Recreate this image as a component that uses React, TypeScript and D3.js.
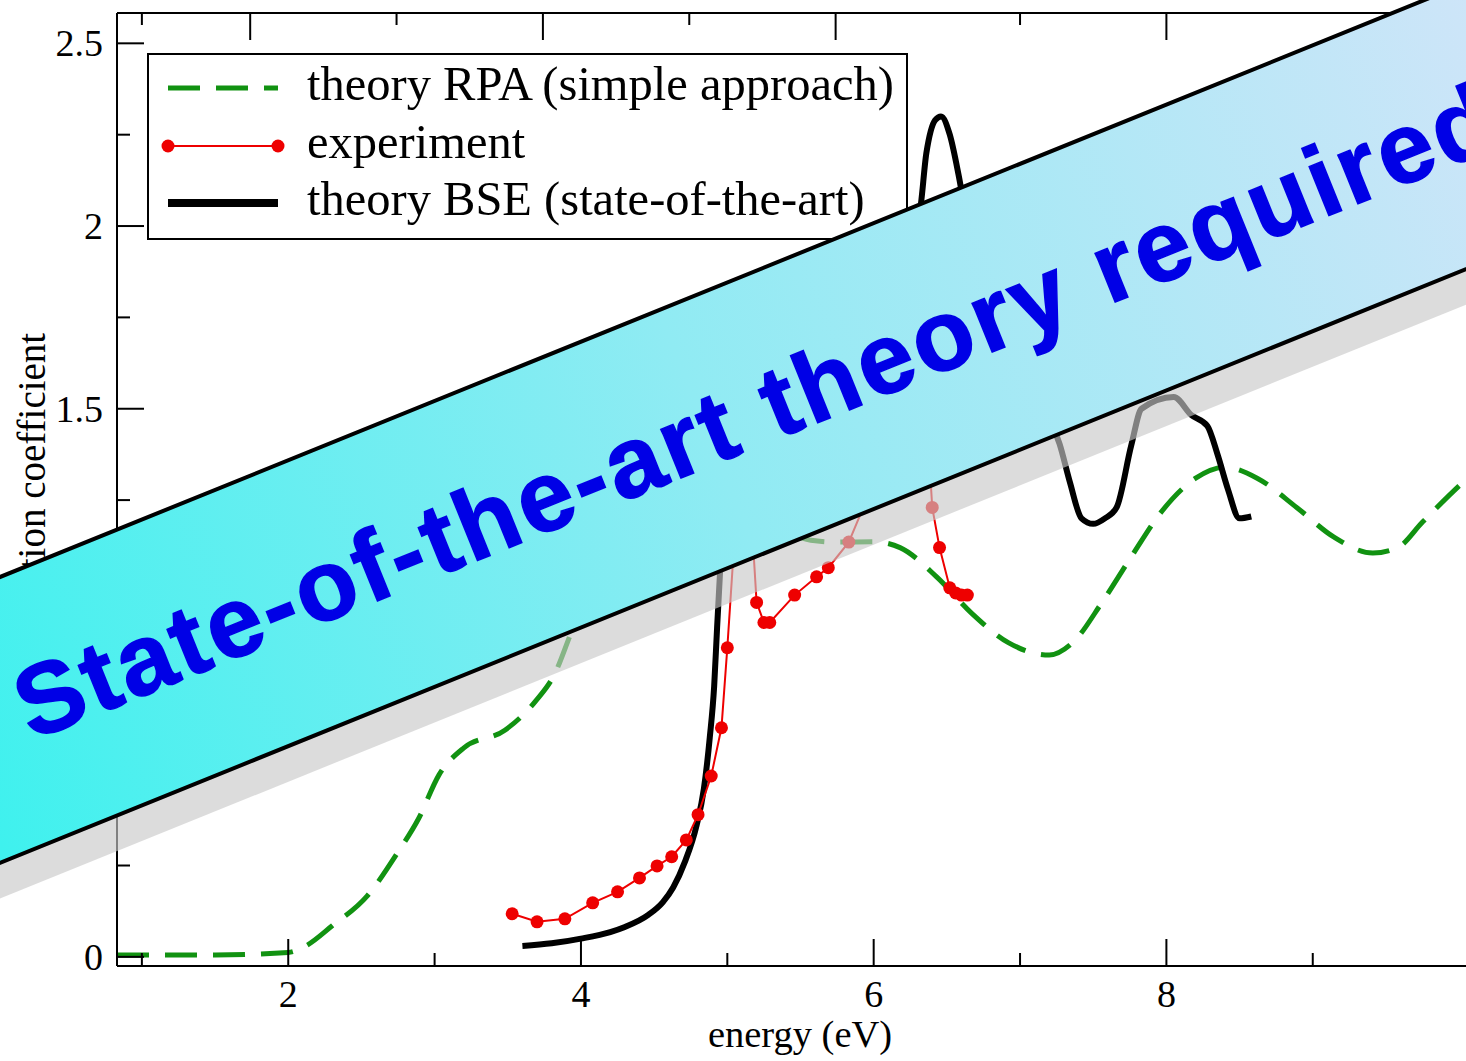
import { curveMonotoneX, line as d3_line, scaleLinear } from "d3";

// --- data ---
const rpaTheory: [number, number][] = [
  [0.83, 0.005], [1.5, 0.005], [2.0, 0.012], [2.12, 0.03], [2.3, 0.085],
  [2.54, 0.167], [2.75, 0.287], [2.89, 0.378], [3.03, 0.498], [3.2, 0.572],
  [3.48, 0.62], [3.69, 0.7], [3.82, 0.774], [3.93, 0.884], [4.05, 1.0],
  [4.2, 1.2], [4.4, 1.45], [4.6, 1.6], [4.8, 1.55], [5.0, 1.4], [5.2, 1.25],
  [5.4, 1.17], [5.57, 1.14], [5.75, 1.135], [6.0, 1.136], [6.18, 1.12],
  [6.43, 1.04], [6.67, 0.94], [6.92, 0.86], [7.2, 0.826], [7.36, 0.86],
  [7.56, 0.97], [7.76, 1.095], [7.96, 1.215], [8.2, 1.31], [8.4, 1.34],
  [8.62, 1.31], [8.89, 1.23], [9.14, 1.15], [9.41, 1.105], [9.58, 1.12],
  [9.75, 1.19], [10.03, 1.3], [10.17, 1.35],
];

const experiment: [number, number][] = [
  [3.53, 0.118], [3.7, 0.096], [3.89, 0.104], [4.08, 0.148], [4.25, 0.178],
  [4.4, 0.216], [4.52, 0.249], [4.62, 0.274], [4.72, 0.32], [4.8, 0.389],
  [4.89, 0.495], [4.96, 0.627], [5.0, 0.846], [5.05, 1.15], [5.1, 1.4],
  [5.15, 1.3], [5.2, 0.97], [5.25, 0.915], [5.29, 0.915], [5.46, 0.99],
  [5.61, 1.04], [5.69, 1.065], [5.83, 1.135], [5.95, 1.25], [6.1, 1.5],
  [6.25, 1.6], [6.36, 1.5], [6.4, 1.23], [6.45, 1.12], [6.52, 1.01],
  [6.56, 0.996], [6.6, 0.99], [6.64, 0.99],
];

const bseTheory: [number, number][] = [
  [3.6, 0.03], [3.8, 0.037], [4.0, 0.05], [4.2, 0.068], [4.3, 0.082],
  [4.46, 0.115], [4.56, 0.15], [4.63, 0.19], [4.71, 0.26], [4.79, 0.36],
  [4.84, 0.46], [4.88, 0.6], [4.91, 0.74], [4.93, 0.9], [4.95, 1.05],
  [5.05, 1.6], [5.15, 1.8], [5.3, 1.75], [5.5, 1.7], [5.8, 1.8], [6.1, 1.92],
  [6.31, 2.03], [6.36, 2.2], [6.42, 2.29], [6.46, 2.3], [6.52, 2.25],
  [6.58, 2.14], [6.63, 2.03], [6.8, 1.8], [7.0, 1.6], [7.15, 1.5],
  [7.27, 1.404], [7.34, 1.3], [7.42, 1.2], [7.5, 1.185], [7.58, 1.2],
  [7.66, 1.23], [7.76, 1.4], [7.83, 1.5], [8.05, 1.532], [8.17, 1.483],
  [8.28, 1.453], [8.35, 1.374], [8.42, 1.28], [8.5, 1.2], [8.58, 1.205],
];

const legendLabels = [
  "theory RPA (simple approach)",
  "experiment",
  "theory BSE (state-of-the-art)",
];

const xMajorTicks = [2, 4, 6, 8];
const xMinorTicks = [1, 3, 5, 7, 9];
const topMajorTicks = [1.74, 3.74, 5.74, 8];
const topMinorTicks = [1, 2.74, 4.74, 7];
const yMajorTicks = [0, 0.5, 1, 1.5, 2, 2.5];
const yMinorTicks = [0.25, 0.75, 1.25, 1.75, 2.25];

const xLabel = "energy (eV)";
const yLabel = "absorption coefficient";
const bannerText = "State-of-the-art theory required";

const W = 1466;
const H = 1061;
const serif = "'Liberation Serif', 'Times New Roman', serif";

export default function App() {
  const x = scaleLinear().domain([0.83, 10.17]).range([117, 1484]);
  const y = scaleLinear().domain([-0.025, 2.583]).range([966, 13]);

  const line = d3_line<[number, number]>()
    .x((d) => x(d[0]))
    .y((d) => y(d[1]))
    .curve(curveMonotoneX);

  const left = x.range()[0];
  const right = x.range()[1];
  const bottom = y.range()[0];
  const top = y.range()[1];

  // banner: rotated band crossing the chart
  const angle = 22.05;

  return (
    <svg
      width={W}
      height={H}
      style={{ position: "absolute", left: 0, top: 0, background: "#fff" }}
    >
      <defs>
        <linearGradient id="band" gradientUnits="userSpaceOnUse" x1={-100} y1={0} x2={1700} y2={0}>
          <stop offset="0" stopColor="#3ff1ee" />
          <stop offset="0.45" stopColor="#90ebf3" />
          <stop offset="1" stopColor="#d6e4f9" />
        </linearGradient>
      </defs>

      {/* curves */}
      <path
        d={line(rpaTheory)!}
        fill="none"
        stroke="#119211"
        strokeWidth={5}
        strokeDasharray="32 16"
      />
      <path d={line(bseTheory)!} fill="none" stroke="#000" strokeWidth={6} />
      <path
        d={d3_line<[number, number]>()
          .x((d) => x(d[0]))
          .y((d) => y(d[1]))(experiment)!}
        fill="none"
        stroke="#ee0000"
        strokeWidth={2}
      />
      {experiment.map((d, i) => (
        <circle key={i} cx={x(d[0])} cy={y(d[1])} r={6.5} fill="#ee0000" />
      ))}

      {/* frame */}
      <g stroke="#000" strokeWidth={2} fill="none">
        <line x1={left} x2={left} y1={top} y2={bottom} />
        <line x1={left} x2={right} y1={bottom} y2={bottom} />
        <line x1={left} x2={right} y1={top} y2={top} />
        {xMajorTicks.map((t) => (
          <line key={`xb${t}`} x1={x(t)} x2={x(t)} y1={bottom} y2={bottom - 27} />
        ))}
        {xMinorTicks.map((t) => (
          <line key={`xm${t}`} x1={x(t)} x2={x(t)} y1={bottom} y2={bottom - 13} />
        ))}
        {topMajorTicks.map((t) => (
          <line key={`tb${t}`} x1={x(t)} x2={x(t)} y1={top} y2={top + 27} />
        ))}
        {topMinorTicks.map((t) => (
          <line key={`tm${t}`} x1={x(t)} x2={x(t)} y1={top} y2={top + 12} />
        ))}
        {yMajorTicks.map((t) => (
          <line key={`yb${t}`} x1={left} x2={left + 27} y1={y(t)} y2={y(t)} />
        ))}
        {yMinorTicks.map((t) => (
          <line key={`ym${t}`} x1={left} x2={left + 13} y1={y(t)} y2={y(t)} />
        ))}
      </g>

      {/* tick labels */}
      <g fontFamily={serif} fontSize={38} fill="#000">
        {xMajorTicks.map((t) => (
          <text key={t} x={x(t)} y={1007} textAnchor="middle">
            {t}
          </text>
        ))}
        {yMajorTicks.map((t) => (
          <text key={t} x={103} y={y(t) + 13} textAnchor="end">
            {t}
          </text>
        ))}
      </g>
      <text
        x={800}
        y={1047}
        textAnchor="middle"
        fontFamily={serif}
        fontSize={38.5}
      >
        {xLabel}
      </text>
      <text
        transform="translate(45,503) rotate(-90)"
        textAnchor="middle"
        fontFamily={serif}
        fontSize={39}
      >
        {yLabel}
      </text>

      {/* legend */}
      <g>
        <rect x={148} y={54} width={759} height={185} fill="#fff" stroke="#000" strokeWidth={2} />
        {legendLabels.map((label, i) => {
          const ly = [88, 146, 203][i];
          return (
            <g key={label}>
              {i === 0 && (
                <line x1={168} x2={278} y1={ly} y2={ly} stroke="#119211" strokeWidth={5} strokeDasharray="32 16" />
              )}
              {i === 1 && (
                <>
                  <line x1={168} x2={278} y1={ly} y2={ly} stroke="#ee0000" strokeWidth={2} />
                  <circle cx={168} cy={ly} r={6.5} fill="#ee0000" />
                  <circle cx={278} cy={ly} r={6.5} fill="#ee0000" />
                </>
              )}
              {i === 2 && (
                <line x1={168} x2={278} y1={ly} y2={ly} stroke="#000" strokeWidth={8} />
              )}
              <text x={307} y={ly + 12} fontFamily={serif} fontSize={48.5}>
                {label}
              </text>
            </g>
          );
        })}
      </g>

      {/* banner */}
      <g transform={`translate(0,577) rotate(${-angle})`}>
        <rect x={-400} y={33} width={2600} height={265} fill="#c8c8c8" opacity={0.64} />
        <rect x={-400} y={0} width={2600} height={265} fill="url(#band)" stroke="#000" strokeWidth={4} />
        <text
          x={-32}
          y={164}
          fontFamily="'Liberation Sans', Arial, sans-serif"
          fontWeight="bold"
          fontSize={100}
          letterSpacing={3.5}
          fill="#0000e6"
          stroke="#0000e6"
          strokeWidth={1.5}
        >
          {bannerText}
        </text>
      </g>
    </svg>
  );
}
